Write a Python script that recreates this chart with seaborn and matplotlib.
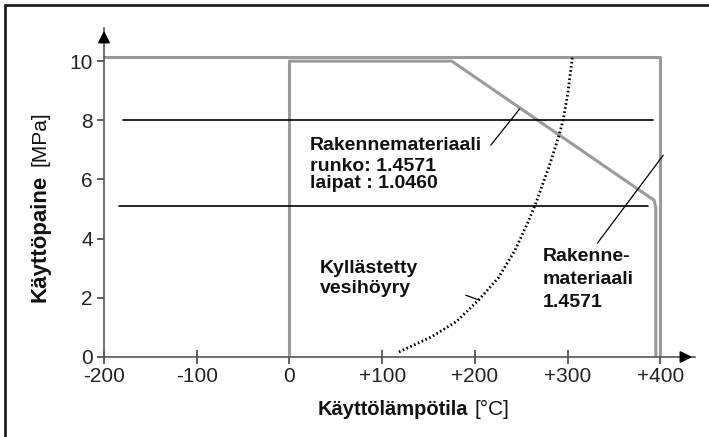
import matplotlib
matplotlib.use("Agg")
import matplotlib.pyplot as plt
from matplotlib.lines import Line2D
import seaborn as sns

# saturated steam curve
sat_temp = [118, 153, 180, 204, 225, 243, 257, 265, 280, 290, 295, 300, 305]
sat_pres = [0.17, 0.68, 1.2, 1.93, 2.67, 3.6, 4.55, 5.15, 6.45, 7.43, 8.0, 8.9, 10.13]

# outer limit (grey)
outer_temp = [-200, 400, 400]
outer_pres = [10.13, 10.13, 0]

# inner limit, material 1.4571 (grey)
inner_temp = [0, 0, 175, 393, 395, 395]
inner_pres = [0, 10, 10, 5.3, 5.05, 0]

# horizontal pressure limits (black)
line8_temp = [-180, 392]
line8_pres = [8, 8]
line5_temp = [-184, 386]
line5_pres = [5.12, 5.12]

x_ticks = [-200, -100, 0, 100, 200, 300, 400]
x_labels = ["-200", "-100", "0", "+100", "+200", "+300", "+400"]
y_ticks = [0, 2, 4, 6, 8, 10]

sns.set_theme(style="white")
plt.rcParams["font.family"] = ["Liberation Sans", "DejaVu Sans"]

fig = plt.figure(figsize=(7.09, 4.37), dpi=100)
ax = fig.add_axes([104 / 709, 80 / 437, 591 / 709, 329 / 437])

grey = "#9a9a9a"
sns.lineplot(x=outer_temp, y=outer_pres, sort=False, estimator=None, color=grey, lw=2.2, ax=ax)
sns.lineplot(x=inner_temp, y=inner_pres, sort=False, estimator=None, color=grey, lw=2.2, ax=ax)
sns.lineplot(x=line8_temp, y=line8_pres, sort=False, estimator=None, color="black", lw=1.2, ax=ax)
sns.lineplot(x=line5_temp, y=line5_pres, sort=False, estimator=None, color="black", lw=1.2, ax=ax)
sns.lineplot(x=sat_temp, y=sat_pres, sort=False, estimator=None, color="black", lw=2.0,
             linestyle=(0, (0.6, 0.9)), ax=ax)

# leader lines
ax.plot([217, 248], [7.16, 8.38], color="black", lw=0.9)
ax.plot([332, 403], [3.85, 6.82], color="black", lw=0.9)
ax.plot([190, 204], [2.09, 1.93], color="black", lw=0.9)

ax.set_xlim(-200, 437.2)
ax.set_ylim(0, 11.12)
ax.set_xticks(x_ticks)
ax.set_xticklabels(x_labels)
ax.set_yticks(y_ticks)

for s in ["top", "right"]:
    ax.spines[s].set_visible(False)
for s in ["left", "bottom"]:
    ax.spines[s].set_color("#555555")
    ax.spines[s].set_linewidth(1.2)
ax.tick_params(axis="x", direction="inout", length=10, width=1.2, color="#444444",
               labelsize=15, pad=2, labelcolor="#222222", bottom=True)
ax.tick_params(axis="y", direction="out", length=5, width=1.2, color="#444444",
               labelsize=15, pad=3, labelcolor="#222222", left=True)

# arrow heads
ax.annotate("", xy=(437.2, 0), xytext=(420, 0),
            arrowprops=dict(arrowstyle="-|>", color="black", lw=1.2, mutation_scale=18),
            annotation_clip=False)
ax.annotate("", xy=(-200, 11.12), xytext=(-200, 10.6),
            arrowprops=dict(arrowstyle="-|>", color="black", lw=1.2, mutation_scale=18),
            annotation_clip=False)

bold = dict(fontsize=14, fontweight="bold", color="#111111", va="baseline")
ax.text(22, 6.99, "Rakennemateriaali", **bold)
ax.text(22, 6.27, "runko: 1.4571", **bold)
ax.text(22, 5.70, "laipat : 1.0460", **bold)
ax.text(33, 2.84, "Kyllästetty", **bold)
ax.text(33, 2.16, "vesihöyry", **bold)
ax.text(273, 3.24, "Rakenne-", **bold)
ax.text(273, 2.47, "materiaali", **bold)
ax.text(273, 1.69, "1.4571", **bold)

# axis titles: bold name + regular unit
fig.text(468 / 709, 1 - 415 / 437, "Käyttölämpötila", ha="right", va="baseline",
         fontsize=14.5, fontweight="bold", color="#111111")
fig.text(474 / 709, 1 - 415 / 437, "[°C]", ha="left", va="baseline",
         fontsize=15, color="#111111")
fig.text(40 / 709, 1 - 302 / 437, "Käyttöpaine", rotation=90, ha="center", va="bottom",
         fontsize=16, fontweight="bold", color="#111111")
fig.text(40 / 709, 1 - 166 / 437, "[MPa]", rotation=90, ha="center", va="bottom",
         fontsize=15, color="#111111")

# frame around the picture (only top and left edges are visible)
fig.add_artist(Line2D([5 / 709, 1], [1 - 5 / 437, 1 - 5 / 437], color="#222222", lw=2,
                      transform=fig.transFigure))
fig.add_artist(Line2D([5 / 709, 5 / 709], [0, 1 - 5 / 437], color="#222222", lw=2,
                      transform=fig.transFigure))

fig.savefig("out.png", dpi=100)
